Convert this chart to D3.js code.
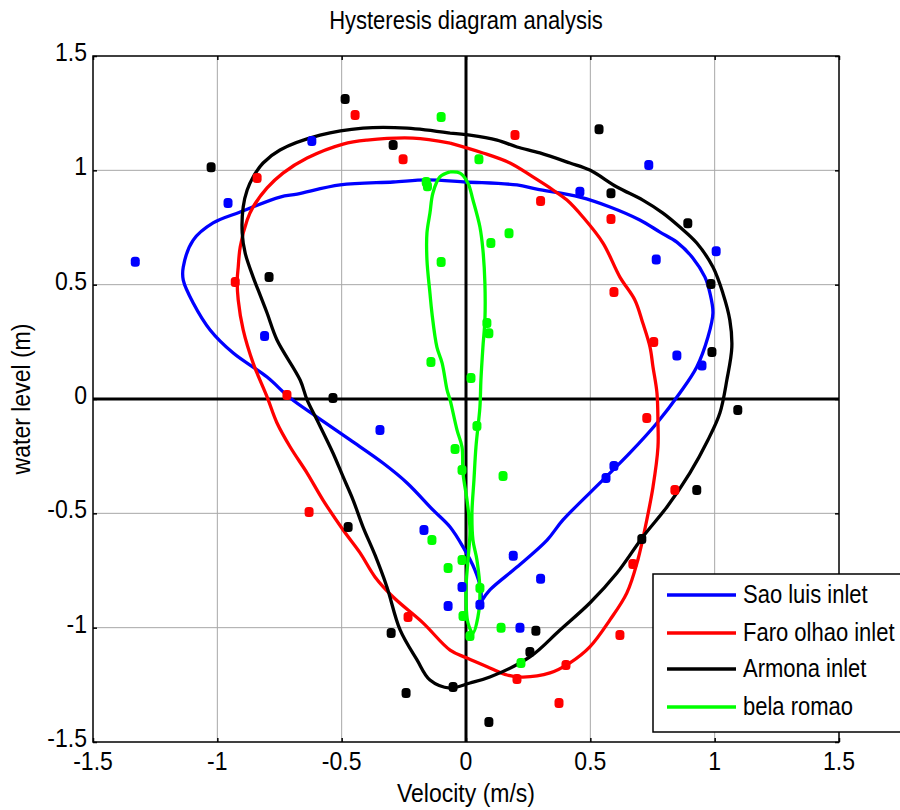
<!DOCTYPE html>
<html>
<head>
<meta charset="utf-8">
<script src="https://cdnjs.cloudflare.com/ajax/libs/d3/7.8.5/d3.min.js"></script>
<style>
  body { margin: 0; background: #fff; }
  text { font-family: "Liberation Sans", Arial, sans-serif; fill: #000; }
</style>
</head>
<body>
<svg id="canvas" width="900" height="810"></svg>
<script>
// axis ticks
var xTicks = [-1.5, -1, -0.5, 0, 0.5, 1, 1.5];
var yTicks = [-1.5, -1, -0.5, 0, 0.5, 1, 1.5];
var gridTicks = [-1, -0.5, 0.5, 1];

var seriesNames = ['Sao luis inlet', 'Faro olhao inlet', 'Armona inlet', 'bela romao'];
var seriesColors = ['#0000ff', '#ff0000', '#000000', '#00ff00'];

// Sao luis inlet: fitted loop (velocity, water level)
var saoLineV = [0.060, 0.096, 0.205, 0.326, 0.390, 0.551, 0.659, 0.768, 0.860, 0.928, 0.973, 0.993, 0.981, 0.961, 0.912, 0.848, 0.780, 0.699, 0.579, 0.458, 0.285, 0.205, 0.000, -0.157, -0.293, -0.506, -0.679, -0.748, -0.908, -1.017, -1.097, -1.137, -1.137, -1.097, -1.029, -0.936, -0.800, -0.707, -0.599, -0.466, -0.334, -0.237, -0.133, -0.064, -0.012, 0.036, 0.060, 0.060];
var saoLineH = [-0.888, -0.835, -0.735, -0.617, -0.529, -0.354, -0.236, -0.105, 0.026, 0.140, 0.271, 0.376, 0.463, 0.533, 0.617, 0.686, 0.730, 0.783, 0.840, 0.883, 0.918, 0.936, 0.949, 0.958, 0.949, 0.936, 0.896, 0.883, 0.818, 0.770, 0.695, 0.577, 0.520, 0.420, 0.302, 0.201, 0.096, 0.004, -0.079, -0.179, -0.280, -0.367, -0.485, -0.560, -0.647, -0.748, -0.835, -0.888];
var saoPtsV = [-1.33, -0.957, -0.62, -0.81, -0.346, -0.169, -0.072, -0.016, 0.056, 0.19, 0.30, 0.217, 0.458, 0.735, 0.765, 1.006, 0.848, 0.949, 0.595, 0.563];
var saoPtsH = [0.60, 0.857, 1.128, 0.275, -0.136, -0.573, -0.905, -0.822, -0.90, -0.686, -0.786, -1.0, 0.906, 1.023, 0.61, 0.646, 0.19, 0.146, -0.293, -0.345];

// Faro olhao inlet
var faroLineV = [-0.064, 0.068, 0.177, 0.269, 0.350, 0.406, 0.470, 0.551, 0.619, 0.679, 0.711, 0.740, 0.752, 0.768, 0.772, 0.772, 0.752, 0.727, 0.691, 0.647, 0.579, 0.498, 0.418, 0.338, 0.229, 0.165, 0.096, 0.004, -0.064, -0.173, -0.293, -0.366, -0.426, -0.494, -0.575, -0.639, -0.707, -0.760, -0.800, -0.856, -0.896, -0.916, -0.920, -0.916, -0.908, -0.880, -0.856, -0.800, -0.736, -0.639, -0.494, -0.398, -0.213, -0.064];
var faroLineH = [1.119, 1.076, 1.032, 0.971, 0.914, 0.870, 0.796, 0.682, 0.533, 0.433, 0.332, 0.227, 0.140, 0.026, -0.105, -0.210, -0.385, -0.529, -0.704, -0.848, -0.966, -1.084, -1.154, -1.198, -1.216, -1.207, -1.176, -1.133, -1.098, -0.979, -0.866, -0.778, -0.673, -0.573, -0.442, -0.324, -0.210, -0.105, 0.009, 0.157, 0.302, 0.433, 0.520, 0.577, 0.665, 0.783, 0.840, 0.923, 0.988, 1.054, 1.115, 1.132, 1.141, 1.119];
var faroPtsV = [-0.446, -0.253, -0.84, -0.928, 0.197, 0.30, 0.583, 0.595, 0.755, 0.727, 0.84, 0.671, 0.619, 0.402, 0.205, 0.374, -0.233, -0.631, -0.72];
var faroPtsH = [1.242, 1.049, 0.966, 0.512, 1.154, 0.866, 0.787, 0.468, 0.249, -0.083, -0.398, -0.722, -1.032, -1.163, -1.224, -1.329, -0.953, -0.494, 0.017];

// Armona inlet
var armonaLineV = [-0.064, 0.016, 0.125, 0.205, 0.297, 0.418, 0.498, 0.607, 0.711, 0.792, 0.860, 0.928, 0.993, 1.033, 1.061, 1.069, 1.049, 1.021, 0.973, 0.900, 0.808, 0.711, 0.607, 0.498, 0.378, 0.257, 0.096, 0.016, -0.064, -0.145, -0.197, -0.265, -0.318, -0.366, -0.414, -0.454, -0.494, -0.535, -0.599, -0.639, -0.667, -0.760, -0.800, -0.836, -0.856, -0.888, -0.900, -0.896, -0.880, -0.856, -0.816, -0.748, -0.587, -0.414, -0.237, -0.064];
var armonaLineH = [1.163, 1.154, 1.132, 1.102, 1.076, 1.032, 1.001, 0.927, 0.870, 0.813, 0.752, 0.682, 0.577, 0.463, 0.345, 0.227, 0.083, -0.061, -0.179, -0.324, -0.472, -0.603, -0.761, -0.892, -1.010, -1.128, -1.216, -1.242, -1.264, -1.229, -1.141, -1.010, -0.822, -0.682, -0.560, -0.442, -0.341, -0.236, -0.092, -0.004, 0.083, 0.258, 0.376, 0.477, 0.533, 0.638, 0.726, 0.840, 0.914, 0.971, 1.032, 1.089, 1.154, 1.185, 1.185, 1.163];
var armonaPtsV = [-0.486, -1.025, -0.293, -0.792, 0.535, 0.583, 0.892, 0.985, 0.989, 1.093, 0.928, 0.707, 0.281, 0.257, 0.092, -0.052, -0.241, -0.301, -0.474, -0.535];
var armonaPtsH = [1.312, 1.014, 1.111, 0.533, 1.18, 0.9, 0.769, 0.503, 0.206, -0.048, -0.398, -0.612, -1.014, -1.106, -1.412, -1.259, -1.286, -1.023, -0.56, 0.004];

// bela romao
var belaLineV = [-0.064, -0.024, 0.008, 0.028, 0.056, 0.068, 0.076, 0.076, 0.068, 0.060, 0.056, 0.040, 0.032, 0.024, 0.028, 0.044, 0.056, 0.048, 0.028, 0.008, 0.000, 0.008, 0.016, 0.004, -0.012, -0.016, -0.036, -0.064, -0.076, -0.096, -0.117, -0.137, -0.145, -0.157, -0.157, -0.145, -0.133, -0.105, -0.064];
var belaLineH = [0.993, 0.988, 0.944, 0.870, 0.752, 0.652, 0.507, 0.345, 0.227, 0.083, -0.035, -0.210, -0.354, -0.498, -0.617, -0.704, -0.835, -0.953, -1.023, -0.979, -0.835, -0.704, -0.573, -0.442, -0.324, -0.210, -0.136, -0.004, 0.039, 0.157, 0.227, 0.376, 0.463, 0.608, 0.726, 0.813, 0.901, 0.971, 0.993];
var belaPtsV = [-0.1, -0.16, -0.155, -0.1, 0.052, 0.1, 0.173, 0.084, 0.092, -0.141, 0.02, 0.044, -0.044, -0.016, 0.149, -0.137, -0.072, -0.016, 0.056, -0.012, 0.016, 0.141, 0.221];
var belaPtsH = [1.233, 0.949, 0.93, 0.599, 1.049, 0.682, 0.725, 0.332, 0.288, 0.162, 0.092, -0.118, -0.219, -0.31, -0.337, -0.617, -0.739, -0.704, -0.826, -0.949, -1.036, -1.0, -1.154];

var lineV = [saoLineV, faroLineV, armonaLineV, belaLineV];
var lineH = [saoLineH, faroLineH, armonaLineH, belaLineH];
var ptsV = [saoPtsV, faroPtsV, armonaPtsV, belaPtsV];
var ptsH = [saoPtsH, faroPtsH, armonaPtsH, belaPtsH];

var plotLeft = 93, plotRight = 839, plotTop = 56, plotBottom = 742;
var stretch = 1.14; // the reference text is a little taller than it is wide
var svg = d3.select('#canvas');

var x = d3.scaleLinear().domain([-1.5, 1.5]).range([plotLeft, plotRight]);
var y = d3.scaleLinear().domain([-1.5, 1.5]).range([plotBottom, plotTop]);

var tickText = function(d) { return String(d); };

// grid
svg.append('g')
    .selectAll('line')
    .data(gridTicks)
    .enter()
    .append('line')
    .attr('x1', function(d) { return x(d); })
    .attr('x2', function(d) { return x(d); })
    .attr('y1', plotTop)
    .attr('y2', plotBottom)
    .attr('stroke', '#a8a8a8')
    .attr('stroke-width', 1);

svg.append('g')
    .selectAll('line')
    .data(gridTicks)
    .enter()
    .append('line')
    .attr('y1', function(d) { return y(d); })
    .attr('y2', function(d) { return y(d); })
    .attr('x1', plotLeft)
    .attr('x2', plotRight)
    .attr('stroke', '#a8a8a8')
    .attr('stroke-width', 1);

// zero lines
svg.append('line')
    .attr('x1', x(0)).attr('x2', x(0))
    .attr('y1', plotTop).attr('y2', plotBottom)
    .attr('stroke', '#000').attr('stroke-width', 3);
svg.append('line')
    .attr('x1', plotLeft).attr('x2', plotRight)
    .attr('y1', y(0)).attr('y2', y(0))
    .attr('stroke', '#000').attr('stroke-width', 3);

// axes with inward ticks
function styleAxis(g) {
    g.select('.domain').remove();
    g.selectAll('.tick line').attr('stroke', '#000').attr('stroke-width', 1.5);
    g.selectAll('.tick text')
        .style('font-family', '"Liberation Sans", Arial, sans-serif')
        .style('font-size', '23px')
        .attr('fill', '#000');
}

// y tick labels: placed by hand on each tick so they can be stretched
svg.append('g')
    .attr('transform', 'translate(' + plotLeft + ',0)')
    .call(d3.axisLeft(y).tickValues(yTicks).tickSize(-4).tickFormat(''))
    .call(styleAxis);

svg.append('g')
    .selectAll('text')
    .data(yTicks)
    .enter()
    .append('text')
    .attr('text-anchor', 'end')
    .attr('transform', function(d) {
        return 'translate(' + (plotLeft - 6) + ',' + (y(d) + 5) + ') scale(1,' + stretch + ')';
    })
    .style('font-size', '23px')
    .text(tickText);

svg.append('g')
    .attr('transform', 'translate(0,' + plotBottom + ')')
    .call(d3.axisBottom(x).tickValues(xTicks).tickSize(-4).tickFormat(''))
    .call(styleAxis);

svg.append('g')
    .selectAll('text')
    .data(xTicks)
    .enter()
    .append('text')
    .attr('text-anchor', 'middle')
    .attr('transform', function(d) {
        return 'translate(' + x(d) + ',' + (plotBottom + 28) + ') scale(1,' + stretch + ')';
    })
    .style('font-size', '23px')
    .text(tickText);

svg.append('g')
    .attr('transform', 'translate(' + plotRight + ',0)')
    .call(d3.axisRight(y).tickValues(yTicks).tickSize(-4).tickFormat(''))
    .call(styleAxis);

svg.append('g')
    .attr('transform', 'translate(0,' + plotTop + ')')
    .call(d3.axisTop(x).tickValues(xTicks).tickSize(-4).tickFormat(''))
    .call(styleAxis);

// frame
svg.append('rect')
    .attr('x', plotLeft).attr('y', plotTop)
    .attr('width', plotRight - plotLeft).attr('height', plotBottom - plotTop)
    .attr('fill', 'none').attr('stroke', '#000').attr('stroke-width', 1.5);

// curves and points
var line = d3.line()
    .x(function(d) { return x(d[0]); })
    .y(function(d) { return y(d[1]); })
    .curve(d3.curveCatmullRom.alpha(0.5));

seriesNames.forEach(function(name, i) {
    var pts = lineV[i].map(function(v, j) { return [v, lineH[i][j]]; });
    svg.append('path')
        .datum(pts)
        .attr('d', line)
        .attr('fill', 'none')
        .attr('stroke', seriesColors[i])
        .attr('stroke-width', 3.3)
        .attr('stroke-linejoin', 'round');
});

seriesNames.forEach(function(name, i) {
    var dots = ptsV[i].map(function(v, j) { return [v, ptsH[i][j]]; });
    svg.append('g')
        .selectAll('rect')
        .data(dots)
        .enter()
        .append('rect')
        .attr('x', function(d) { return x(d[0]) - 4.5; })
        .attr('y', function(d) { return y(d[1]) - 5; })
        .attr('width', 9)
        .attr('height', 10)
        .attr('rx', 3.5)
        .attr('fill', seriesColors[i]);
});

// title and labels
svg.append('text')
    .attr('transform', 'translate(' + x(0) + ',29) scale(1,' + stretch + ')')
    .attr('text-anchor', 'middle')
    .style('font-size', '22px')
    .text('Hysteresis diagram analysis');

svg.append('text')
    .attr('transform', 'translate(' + x(0) + ',802) scale(1,' + stretch + ')')
    .attr('text-anchor', 'middle')
    .style('font-size', '23px')
    .text('Velocity (m/s)');

svg.append('text')
    .attr('transform', 'translate(30,' + y(0) + ') rotate(-90) scale(1,' + stretch + ')')
    .attr('text-anchor', 'middle')
    .style('font-size', '23px')
    .text('water level (m)');

// legend
var legend = svg.append('g');
legend.append('rect')
    .attr('x', 653).attr('y', 574)
    .attr('width', 260).attr('height', 158)
    .attr('fill', '#fff').attr('stroke', '#000').attr('stroke-width', 1.5);

var rowY = [595, 633, 669, 707];
seriesNames.forEach(function(name, i) {
    legend.append('line')
        .attr('x1', 667).attr('x2', 736)
        .attr('y1', rowY[i]).attr('y2', rowY[i])
        .attr('stroke', seriesColors[i])
        .attr('stroke-width', 3.3);
    legend.append('text')
        .attr('transform', 'translate(743,' + (rowY[i] + 8) + ') scale(1,' + stretch + ')')
        .style('font-size', '22px')
        .text(name);
});
</script>
</body>
</html>
